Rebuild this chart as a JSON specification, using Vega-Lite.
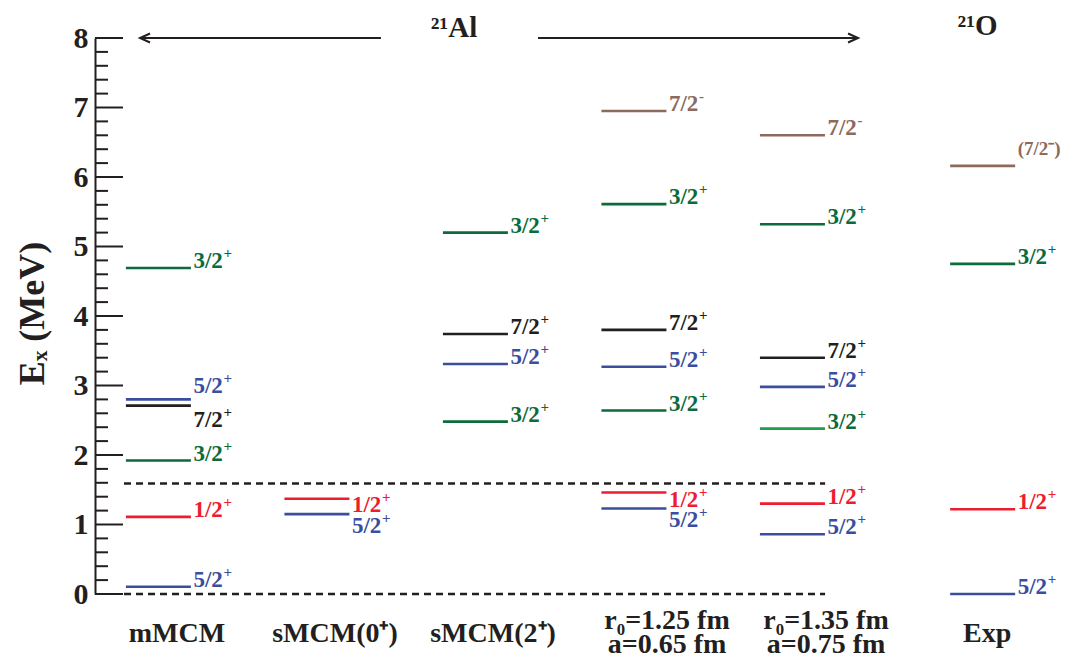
{
  "$schema": "https://vega.github.io/schema/vega-lite/v6.json",
  "width": 978,
  "height": 556,
  "autosize": "none",
  "padding": {"left": 95, "top": 38, "right": 0, "bottom": 63},
  "background": "white",
  "config": {"view": {"stroke": null}},
  "datasets": {
    "levels": [
      {"col": 1, "E": 4.69, "ly": 4.69, "t": "3/2", "s": "+", "k": "green", "tk": "green"},
      {"col": 1, "E": 2.80, "ly": 2.89, "t": "5/2", "s": "+", "k": "blue", "tk": "blue"},
      {"col": 1, "E": 2.71, "ly": 2.40, "t": "7/2", "s": "+", "k": "black", "tk": "black"},
      {"col": 1, "E": 1.92, "ly": 1.92, "t": "3/2", "s": "+", "k": "green", "tk": "green"},
      {"col": 1, "E": 1.11, "ly": 1.11, "t": "1/2", "s": "+", "k": "red", "tk": "red"},
      {"col": 1, "E": 0.105, "ly": 0.105, "t": "5/2", "s": "+", "k": "blue", "tk": "blue"},
      {"col": 2, "E": 1.37, "ly": 1.18, "t": "1/2", "s": "+", "k": "red", "tk": "red"},
      {"col": 2, "E": 1.15, "ly": 0.88, "t": "5/2", "s": "+", "k": "blue", "tk": "blue"},
      {"col": 3, "E": 5.20, "ly": 5.20, "t": "3/2", "s": "+", "k": "green", "tk": "green"},
      {"col": 3, "E": 3.74, "ly": 3.74, "t": "7/2", "s": "+", "k": "black", "tk": "black"},
      {"col": 3, "E": 3.31, "ly": 3.31, "t": "5/2", "s": "+", "k": "blue", "tk": "blue"},
      {"col": 3, "E": 2.48, "ly": 2.48, "t": "3/2", "s": "+", "k": "green", "tk": "green"},
      {"col": 4, "E": 6.95, "ly": 6.95, "t": "7/2", "s": "-", "k": "brown", "tk": "brown"},
      {"col": 4, "E": 5.61, "ly": 5.61, "t": "3/2", "s": "+", "k": "green", "tk": "green"},
      {"col": 4, "E": 3.80, "ly": 3.80, "t": "7/2", "s": "+", "k": "black", "tk": "black"},
      {"col": 4, "E": 3.27, "ly": 3.27, "t": "5/2", "s": "+", "k": "blue", "tk": "blue"},
      {"col": 4, "E": 2.64, "ly": 2.64, "t": "3/2", "s": "+", "k": "green", "tk": "green"},
      {"col": 4, "E": 1.46, "ly": 1.25, "t": "1/2", "s": "+", "k": "red", "tk": "red"},
      {"col": 4, "E": 1.23, "ly": 0.96, "t": "5/2", "s": "+", "k": "blue", "tk": "blue"},
      {"col": 5, "E": 6.60, "ly": 6.60, "t": "7/2", "s": "-", "k": "brown", "tk": "brown"},
      {"col": 5, "E": 5.32, "ly": 5.32, "t": "3/2", "s": "+", "k": "green", "tk": "green"},
      {"col": 5, "E": 3.40, "ly": 3.40, "t": "7/2", "s": "+", "k": "black", "tk": "black"},
      {"col": 5, "E": 2.98, "ly": 2.98, "t": "5/2", "s": "+", "k": "blue", "tk": "blue"},
      {"col": 5, "E": 2.38, "ly": 2.38, "t": "3/2", "s": "+", "k": "lgreen", "tk": "green"},
      {"col": 5, "E": 1.30, "ly": 1.30, "t": "1/2", "s": "+", "k": "red", "tk": "red"},
      {"col": 5, "E": 0.86, "ly": 0.86, "t": "5/2", "s": "+", "k": "blue", "tk": "blue"},
      {"col": 6.2, "E": 6.16, "ly": 6.32, "t": "(7/2⁻)", "s": "", "k": "brown", "tk": "brown", "small": true},
      {"col": 6.2, "E": 4.75, "ly": 4.75, "t": "3/2", "s": "+", "k": "green", "tk": "green"},
      {"col": 6.2, "E": 1.22, "ly": 1.22, "t": "1/2", "s": "+", "k": "red", "tk": "red"},
      {"col": 6.2, "E": 0.0, "ly": 0.0, "t": "5/2", "s": "+", "k": "blue", "tk": "blue"}
    ],
    "majorTicks": [{"v": 0}, {"v": 1}, {"v": 2}, {"v": 3}, {"v": 4}, {"v": 5}, {"v": 6}, {"v": 7}, {"v": 8}],
    "minorTicks": [
      {"v": 0.2}, {"v": 0.4}, {"v": 0.6}, {"v": 0.8},
      {"v": 1.2}, {"v": 1.4}, {"v": 1.6}, {"v": 1.8},
      {"v": 2.2}, {"v": 2.4}, {"v": 2.6}, {"v": 2.8},
      {"v": 3.2}, {"v": 3.4}, {"v": 3.6}, {"v": 3.8},
      {"v": 4.2}, {"v": 4.4}, {"v": 4.6}, {"v": 4.8},
      {"v": 5.2}, {"v": 5.4}, {"v": 5.6}, {"v": 5.8},
      {"v": 6.2}, {"v": 6.4}, {"v": 6.6}, {"v": 6.8},
      {"v": 7.2}, {"v": 7.4}, {"v": 7.6}, {"v": 7.8}
    ],
    "dashed": [
      {"x1": 0.783, "x2": 5.206, "E": 1.59},
      {"x1": 0.783, "x2": 5.206, "E": 0}
    ],
    "arrows": [
      {"x1": 2.404, "x2": 0.884, "E": 8},
      {"x1": 3.395, "x2": 5.414, "E": 8}
    ],
    "heads": [
      {"x": 0.884, "E": 8, "dir": "left"},
      {"x": 5.414, "E": 8, "dir": "right"}
    ],
    "titles": [
      {"x": 2.865, "E": 8.02, "label": "²¹Al"},
      {"x": 6.168, "E": 8.05, "label": "²¹O"}
    ],
    "columns": [
      {"x": 1.117, "E": -0.69, "label": ["mMCM"]},
      {"x": 2.114, "E": -0.69, "label": ["sMCM(0⁺)"]},
      {"x": 3.111, "E": -0.69, "label": ["sMCM(2⁺)"]},
      {"x": 4.209, "E": -0.5, "label": ["r₀=1.25 fm", "a=0.65 fm"]},
      {"x": 5.212, "E": -0.5, "label": ["r₀=1.35 fm", "a=0.75 fm"]},
      {"x": 6.228, "E": -0.69, "label": ["Exp"]}
    ]
  },
  "layer": [
    {
      "data": {"name": "arrows"},
      "mark": {"type": "rule", "strokeWidth": 2, "color": "#231f20"},
      "encoding": {
        "x": {"field": "x1", "type": "quantitative", "scale": {"domain": [0.6, 6.77], "nice": false, "zero": false}, "axis": null},
        "x2": {"field": "x2"},
        "y": {
          "field": "E", "type": "quantitative",
          "scale": {"domain": [0, 8], "nice": false, "zero": false},
          "axis": {
            "values": [0, 1, 2, 3, 4, 5, 6, 7, 8],
            "tickCount": 100,
            "format": "d",
            "ticks": false,
            "domainColor": "#231f20",
            "domainWidth": 2,
            "grid": false,
            "labelFont": "Liberation Serif",
            "labelFontWeight": "bold",
            "labelFontSize": 30,
            "labelColor": "#231f20",
            "labelPadding": 7,
            "labelBaseline": "middle",
            "labelFlush": false,
            "labelOverlap": false,
            "title": "Eₓ (MeV)",
            "titleFont": "Liberation Serif",
            "titleFontWeight": "bold",
            "titleFontSize": 36,
            "titleColor": "#231f20",
            "titleX": -63,
            "titleY": 275,
            "titleAngle": -90,
            "titleAlign": "center",
            "titleBaseline": "middle"
          }
        }
      }
    },
    {
      "data": {"name": "majorTicks"},
      "mark": {"type": "rule", "strokeWidth": 2, "color": "#231f20"},
      "encoding": {
        "x": {"datum": 0.6, "type": "quantitative", "scale": {"domain": [0.6, 6.77], "nice": false, "zero": false}, "axis": null},
        "x2": {"datum": 0.7766},
        "y": {"field": "v", "type": "quantitative", "scale": {"domain": [0, 8], "nice": false, "zero": false}}
      }
    },
    {
      "data": {"name": "minorTicks"},
      "mark": {"type": "rule", "strokeWidth": 2, "color": "#231f20"},
      "encoding": {
        "x": {"datum": 0.6, "type": "quantitative", "scale": {"domain": [0.6, 6.77], "nice": false, "zero": false}, "axis": null},
        "x2": {"datum": 0.682},
        "y": {"field": "v", "type": "quantitative", "scale": {"domain": [0, 8], "nice": false, "zero": false}}
      }
    },
    {
      "data": {"name": "heads"},
      "mark": {"type": "point", "filled": false, "strokeWidth": 2, "color": "#231f20", "size": 100, "opacity": 1},
      "encoding": {
        "x": {"field": "x", "type": "quantitative", "scale": {"domain": [0.6, 6.77], "nice": false, "zero": false}, "axis": null},
        "y": {"field": "E", "type": "quantitative", "scale": {"domain": [0, 8], "nice": false, "zero": false}},
        "shape": {"field": "dir", "type": "nominal", "scale": {"domain": ["left", "right"], "range": ["M2,-0.9L0,0L2,0.9", "M-2,-0.9L0,0L-2,0.9"]}, "legend": null}
      }
    },
    {
      "data": {"name": "dashed"},
      "mark": {"type": "rule", "strokeWidth": 2.5, "strokeDash": [7, 5], "color": "#231f20"},
      "encoding": {
        "x": {"field": "x1", "type": "quantitative", "scale": {"domain": [0.6, 6.77], "nice": false, "zero": false}, "axis": null},
        "x2": {"field": "x2"},
        "y": {"field": "E", "type": "quantitative", "scale": {"domain": [0, 8], "nice": false, "zero": false}}
      }
    },
    {
      "data": {"name": "levels"},
      "mark": {"type": "tick", "orient": "horizontal", "size": 65, "thickness": 2.6, "opacity": 1},
      "encoding": {
        "x": {"field": "col", "type": "quantitative", "scale": {"domain": [0.6, 6.77], "nice": false, "zero": false}, "axis": null},
        "y": {"field": "E", "type": "quantitative", "scale": {"domain": [0, 8], "nice": false, "zero": false}},
        "color": {"field": "k", "type": "nominal", "scale": {"domain": ["green", "blue", "red", "black", "brown", "lgreen"], "range": ["#0b6b3a", "#3a4ea0", "#ee1c2f", "#231f20", "#8c6a5c", "#1f9d4e"]}, "legend": null}
      }
    },
    {
      "data": {"name": "levels"},
      "transform": [{"filter": "!datum.small"}],
      "mark": {"type": "text", "align": "left", "baseline": "alphabetic", "dx": 35, "font": "Liberation Serif", "fontWeight": "bold", "fontSize": 23},
      "encoding": {
        "x": {"field": "col", "type": "quantitative", "scale": {"domain": [0.6, 6.77], "nice": false, "zero": false}, "axis": null},
        "y": {"field": "ly", "type": "quantitative", "scale": {"domain": [0, 8], "nice": false, "zero": false}},
        "text": {"field": "t"},
        "color": {"field": "tk", "type": "nominal", "legend": null}
      }
    },
    {
      "data": {"name": "levels"},
      "transform": [{"filter": "!datum.small"}],
      "mark": {"type": "text", "align": "left", "baseline": "alphabetic", "dx": 65, "dy": -10, "font": "Liberation Serif", "fontWeight": "bold", "fontSize": 15},
      "encoding": {
        "x": {"field": "col", "type": "quantitative", "scale": {"domain": [0.6, 6.77], "nice": false, "zero": false}, "axis": null},
        "y": {"field": "ly", "type": "quantitative", "scale": {"domain": [0, 8], "nice": false, "zero": false}},
        "text": {"field": "s"},
        "color": {"field": "tk", "type": "nominal", "legend": null}
      }
    },
    {
      "data": {"name": "levels"},
      "transform": [{"filter": "datum.small"}],
      "mark": {"type": "text", "align": "left", "baseline": "alphabetic", "dx": 35, "font": "Liberation Serif", "fontWeight": "bold", "fontSize": 19},
      "encoding": {
        "x": {"field": "col", "type": "quantitative", "scale": {"domain": [0.6, 6.77], "nice": false, "zero": false}, "axis": null},
        "y": {"field": "ly", "type": "quantitative", "scale": {"domain": [0, 8], "nice": false, "zero": false}},
        "text": {"field": "t"},
        "color": {"field": "tk", "type": "nominal", "legend": null}
      }
    },
    {
      "data": {"name": "titles"},
      "mark": {"type": "text", "align": "center", "baseline": "alphabetic", "font": "Liberation Serif", "fontWeight": "bold", "fontSize": 29, "color": "#231f20"},
      "encoding": {
        "x": {"field": "x", "type": "quantitative", "scale": {"domain": [0.6, 6.77], "nice": false, "zero": false}, "axis": null},
        "y": {"field": "E", "type": "quantitative", "scale": {"domain": [0, 8], "nice": false, "zero": false}},
        "text": {"field": "label"}
      }
    },
    {
      "data": {"name": "columns"},
      "mark": {"type": "text", "align": "center", "baseline": "alphabetic", "font": "Liberation Serif", "fontWeight": "bold", "fontSize": 28, "lineHeight": 24, "color": "#231f20"},
      "encoding": {
        "x": {"field": "x", "type": "quantitative", "scale": {"domain": [0.6, 6.77], "nice": false, "zero": false}, "axis": null},
        "y": {"field": "E", "type": "quantitative", "scale": {"domain": [0, 8], "nice": false, "zero": false}},
        "text": {"field": "label"}
      }
    }
  ]
}
